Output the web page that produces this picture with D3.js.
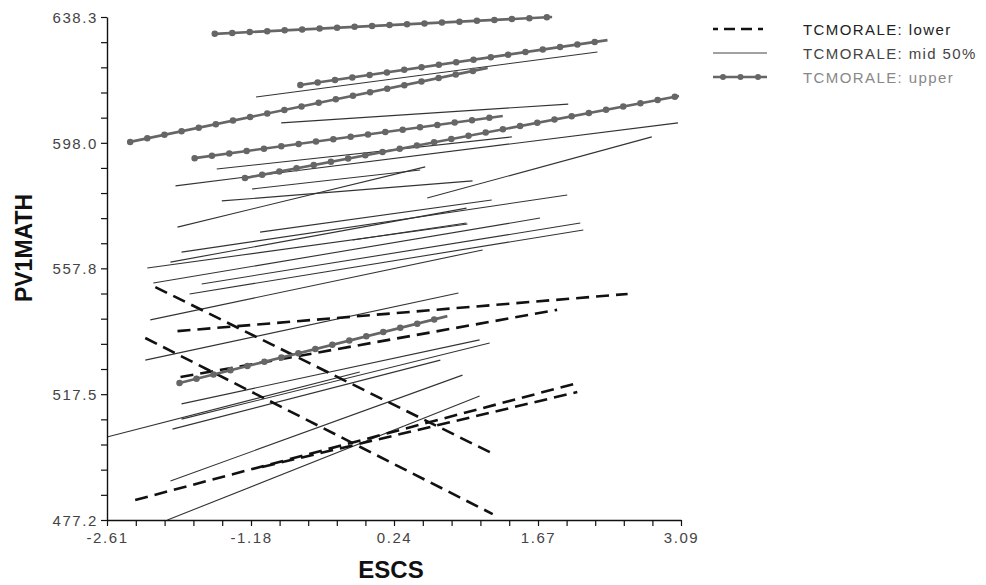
<!DOCTYPE html>
<html>
<head>
<meta charset="utf-8">
<script src="https://cdn.jsdelivr.net/npm/d3@7"></script>
<style>
  html, body { margin: 0; padding: 0; background: #fff; }
  svg { display: block; font-family: "Liberation Sans", Arial, sans-serif; }
</style>
</head>
<body>
<svg id="chart" width="986" height="585"></svg>
<script>
// Axis ticks
const xTickValues = [-2.61, -1.18, 0.24, 1.67, 3.09];
const xTickLabels = ["-2.61", "-1.18", "0.24", "1.67", "3.09"];
const yTickValues = [477.2, 517.5, 557.8, 598.0, 638.3];
const yTickLabels = ["477.2", "517.5", "557.8", "598.0", "638.3"];

// School regression lines: [ESCS start, PV1MATH start, ESCS end, PV1MATH end]
const lowerLines = [
  [-2.13, 551.8, 1.25, 498.0],
  [-2.23, 535.5, 1.22, 479.1],
  [-1.91, 537.7, 2.56, 549.6],
  [-1.88, 523.0, 1.86, 544.5],
  [-2.33, 483.6, 2.03, 520.8],
  [-1.07, 494.2, 2.06, 518.2]
];

const midLines = [
  [-1.13, 612.7, 2.26, 627.1],
  [-0.88, 604.4, 1.97, 610.4],
  [-1.52, 589.6, 1.41, 599.9],
  [-1.93, 584.2, 3.06, 604.4],
  [-1.17, 583.2, 0.50, 589.3],
  [-1.47, 579.4, 1.02, 585.8],
  [-1.91, 571.0, 0.55, 590.3],
  [-1.09, 569.4, 1.21, 579.7],
  [-1.87, 563.0, 1.96, 581.3],
  [-1.98, 559.8, 0.96, 577.1],
  [-2.21, 557.9, 0.97, 572.0],
  [-2.15, 553.1, 1.69, 573.9],
  [-1.67, 552.8, 2.09, 572.3],
  [-1.79, 549.6, 2.12, 570.1],
  [-2.18, 541.3, 1.12, 563.7],
  [-2.23, 528.4, 0.88, 549.9],
  [-1.87, 514.4, 1.09, 534.9],
  [-1.87, 509.5, 1.19, 533.9],
  [-1.96, 506.3, 0.70, 528.4],
  [-2.61, 503.8, -0.10, 524.6],
  [-1.98, 489.7, 0.92, 523.6],
  [-2.01, 477.2, 1.09, 516.9],
  [0.57, 580.3, 2.80, 599.9],
  [-0.17, 566.9, 0.96, 572.3]
];

const upperLines = [
  [-1.54, 632.9, 1.81, 638.3],
  [-0.69, 616.5, 2.36, 630.9],
  [-2.38, 598.3, 1.17, 622.0],
  [-1.74, 593.1, 1.32, 606.6],
  [-1.24, 586.7, 3.07, 613.0],
  [-1.89, 521.1, 0.77, 542.5]
];

const legendLabels = ["TCMORALE: lower", "TCMORALE: mid 50%", "TCMORALE: upper"];

const svg = d3.select("#chart");
const plotLeft = 107, plotRight = 681, plotTop = 17, plotBottom = 520;

const x = d3.scaleLinear().domain([xTickValues[0], xTickValues[4]]).range([plotLeft, plotRight]);
const y = d3.scaleLinear().domain([yTickValues[0], yTickValues[4]]).range([plotBottom, plotTop]);

// Major ticks plus four minor ticks in each interval
function withMinor(vals) {
  const out = [];
  for (let i = 0; i < vals.length - 1; i++) {
    for (let k = 0; k < 5; k++) out.push(vals[i] + (vals[i + 1] - vals[i]) * k / 5);
  }
  out.push(vals[vals.length - 1]);
  return out;
}
const xAll = withMinor(xTickValues);
const yAll = withMinor(yTickValues);

const lineGen = d3.line().x(d => x(d[0])).y(d => y(d[1]));
const pts = r => [[r[0], r[1]], [r[2], r[3]]];

// Mid 50% schools: thin solid
svg.append("g").selectAll("path").data(midLines).join("path")
  .attr("d", r => lineGen(pts(r)))
  .attr("fill", "none").attr("stroke", "#333").attr("stroke-width", 1.1);

// Lower schools: heavy dashes
svg.append("g").selectAll("path").data(lowerLines).join("path")
  .attr("d", r => lineGen(pts(r)))
  .attr("fill", "none").attr("stroke", "#111").attr("stroke-width", 2.6)
  .attr("stroke-dasharray", "13,7");

// Upper schools: gray line with round markers along it
const up = svg.append("g");
up.selectAll("path.ln").data(upperLines).join("path").attr("class", "ln")
  .attr("d", r => lineGen(pts(r)))
  .attr("fill", "none").attr("stroke", "#666").attr("stroke-width", 2.6);
up.selectAll("path.mk").data(upperLines).join("path").attr("class", "mk")
  .attr("d", r => lineGen(pts(r)))
  .attr("fill", "none").attr("stroke", "#666").attr("stroke-width", 6.5)
  .attr("stroke-linecap", "round").attr("stroke-dasharray", "0,17.5");

// Axes
const xAxis = d3.axisBottom(x).tickValues(xAll).tickSize(6).tickSizeOuter(0)
  .tickFormat(d => { const i = xTickValues.findIndex(v => Math.abs(v - d) < 1e-6); return i >= 0 ? xTickLabels[i] : ""; });
const yAxis = d3.axisLeft(y).tickValues(yAll).tickSize(6).tickSizeOuter(0)
  .tickFormat(d => { const i = yTickValues.findIndex(v => Math.abs(v - d) < 1e-6); return i >= 0 ? yTickLabels[i] : ""; });

const gx = svg.append("g").attr("transform", `translate(0,${plotBottom})`).call(xAxis);
const gy = svg.append("g").attr("transform", `translate(${plotLeft},0)`).call(yAxis);
[gx, gy].forEach(g => {
  g.select(".domain").attr("stroke", "#111").attr("stroke-width", 1.4);
  g.selectAll(".tick line").attr("stroke", "#111").attr("stroke-width", 1.2);
  g.selectAll(".tick text").attr("fill", "#444").style("font-size", "15px")
    .style("letter-spacing", "1.6px").style("font-family", "'Liberation Sans', Arial, sans-serif");
});
gx.selectAll(".tick text").attr("dy", 0).attr("y", 23);
gy.selectAll(".tick text").attr("x", -9).attr("dy", "0.36em");

// Axis titles
svg.append("text").attr("x", 391).attr("y", 578).attr("text-anchor", "middle")
  .style("font-size", "24px").style("font-weight", "bold").attr("fill", "#111").text("ESCS");
svg.append("text").attr("transform", "translate(32,248) rotate(-90)").attr("text-anchor", "middle")
  .style("font-size", "23px").style("font-weight", "bold").attr("fill", "#111").text("PV1MATH");

// Legend
const lg = svg.append("g");
const rows = [29, 53, 77];
const symX0 = 713, symX1 = 767;
lg.append("line").attr("x1", symX0).attr("x2", symX1).attr("y1", rows[0]).attr("y2", rows[0])
  .attr("stroke", "#111").attr("stroke-width", 2.4).attr("stroke-dasharray", "5,6,11,6,11,6,5");
lg.append("line").attr("x1", symX0).attr("x2", symX1).attr("y1", rows[1]).attr("y2", rows[1])
  .attr("stroke", "#444").attr("stroke-width", 1.1);
lg.append("line").attr("x1", symX0).attr("x2", symX1).attr("y1", rows[2]).attr("y2", rows[2])
  .attr("stroke", "#666").attr("stroke-width", 2.4);
lg.append("line").attr("x1", symX0 + 10).attr("x2", symX1).attr("y1", rows[2]).attr("y2", rows[2])
  .attr("stroke", "#666").attr("stroke-width", 6).attr("stroke-linecap", "round")
  .attr("stroke-dasharray", "0,17.5");
const legendColors = ["#222", "#444", "#888"];
lg.selectAll("text").data(legendLabels).join("text")
  .attr("x", 803).attr("y", (d, i) => rows[i] + 5.5)
  .attr("fill", (d, i) => legendColors[i])
  .style("font-size", "15px").style("letter-spacing", "1.4px").text(d => d);
</script>
</body>
</html>
